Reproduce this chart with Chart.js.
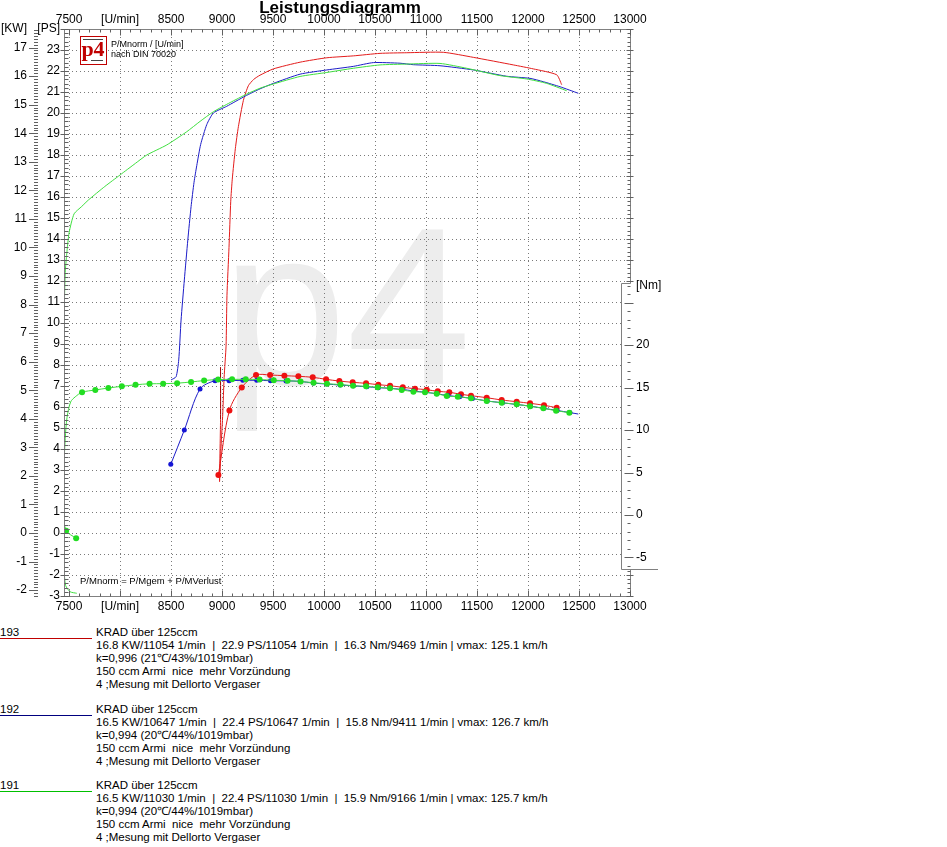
<!DOCTYPE html>
<html>
<head>
<meta charset="utf-8">
<script src="https://cdn.jsdelivr.net/npm/chart.js@4.4.1/dist/chart.umd.min.js"></script>
<style>
  body { margin: 0; background: #fff; font-family: "Liberation Sans", Arial, sans-serif; }
  #wrap { position: relative; width: 947px; height: 615px; }
  .run { position: absolute; left: 0; width: 947px; font-size: 11.5px; line-height: 13px; color: #000; white-space: pre; }
  .run .id { position: absolute; left: 0; top: 0; width: 92px; height: 12px; border-bottom: 1px solid; }
  .run .txt { position: absolute; left: 96px; top: 0; }
</style>
</head>
<body>
<div id="wrap"><canvas id="dyno" width="947" height="615"></canvas></div>

<div class="run" style="top:626px"><div class="id" style="border-color:#c00000">193</div><div class="txt">KRAD über 125ccm
16.8 KW/11054 1/min  |  22.9 PS/11054 1/min  |  16.3 Nm/9469 1/min | vmax: 125.1 km/h
k=0,996 (21℃/43%/1019mbar)
150 ccm Armi  nice  mehr Vorzündung
4 ;Mesung mit Dellorto Vergaser</div></div>

<div class="run" style="top:703px"><div class="id" style="border-color:#00007f">192</div><div class="txt">KRAD über 125ccm
16.5 KW/10647 1/min  |  22.4 PS/10647 1/min  |  15.8 Nm/9411 1/min | vmax: 126.7 km/h
k=0,994 (20℃/44%/1019mbar)
150 ccm Armi  nice  mehr Vorzündung
4 ;Mesung mit Dellorto Vergaser</div></div>

<div class="run" style="top:779px"><div class="id" style="border-color:#00c000">191</div><div class="txt">KRAD über 125ccm
16.5 KW/11030 1/min  |  22.4 PS/11030 1/min  |  15.9 Nm/9166 1/min | vmax: 125.7 km/h
k=0,994 (20℃/44%/1019mbar)
150 ccm Armi  nice  mehr Vorzündung
4 ;Mesung mit Dellorto Vergaser</div></div>

<script>
// ── Axis ranges ───────────────────────────────────────────────────────────────
const RPM_MIN = 7450, RPM_MAX = 13000;
const PS_MIN = -3, PS_MAX = 24;
const PS_TO_KW = 0.73549875;
const KW_MIN = PS_MIN * PS_TO_KW, KW_MAX = PS_MAX * PS_TO_KW;
const NM_MIN = -9.53, NM_MAX = 57.18;
const NM_BOX = [-6.3, 27.3];          // span of the little torque scale on the right

const rpmTicks = [7500, 8000, 8500, 9000, 9500, 10000, 10500, 11000, 11500, 12000, 12500, 13000];
const psTicks  = [-3, -2, -1, 0, 1, 2, 3, 4, 5, 6, 7, 8, 9, 10, 11, 12, 13, 14, 15, 16, 17, 18, 19, 20, 21, 22, 23];
const psRightTicks = [-3, 13, 14, 15, 16, 17, 18, 19, 20, 21, 22, 23];
const kwTicks  = [-2, -1, 0, 1, 2, 3, 4, 5, 6, 7, 8, 9, 10, 11, 12, 13, 14, 15, 16, 17];
const nmTicks  = [-5, 0, 5, 10, 15, 20];
const NM_LABEL_AT = 27;

// ── Power curves [rpm, PS] ────────────────────────────────────────────────────
const greenPower = [
  [7575, -2.87], [7510, -2.8], [7466, -2.5], [7448, -1.6], [7446, 1.5], [7447, 6.0], [7449, 9.7],
  [7462, 12.4], [7477, 13.3], [7500, 14.3], [7549, 15.2], [7624, 15.55], [7690, 15.86], [7850, 16.5],
  [8000, 17.05], [8150, 17.6], [8262, 18.0], [8458, 18.48], [8654, 19.11], [8784, 19.6], [8915, 20.06],
  [9080, 20.5], [9242, 20.9], [9372, 21.18], [9503, 21.38], [9765, 21.74], [10027, 21.93], [10287, 22.13],
  [10549, 22.29], [10811, 22.33], [11137, 22.36], [11399, 22.13], [11725, 21.78], [11987, 21.62],
  [12183, 21.41], [12379, 21.06]
];
const bluePower = [
  [8500, 7.29], [8549, 7.44], [8575, 8.24], [8598, 10.14], [8630, 12.05], [8664, 13.95], [8696, 15.54],
  [8725, 16.7], [8752, 17.5], [8790, 18.5], [8850, 19.45], [8915, 20.0], [9046, 20.32], [9225, 20.8],
  [9372, 21.15], [9503, 21.41], [9765, 21.85], [10027, 22.05], [10287, 22.22], [10484, 22.4],
  [10745, 22.37], [10876, 22.3], [11137, 22.25], [11464, 22.05], [11791, 21.75], [12020, 21.65],
  [12150, 21.49], [12314, 21.25], [12493, 20.94]
];
const redPowerLeadIn = [[8985, 7.9], [8985, 5.4]];
const redPower = [
  [8975, 2.45], [8990, 4.1], [9007, 5.7], [9020, 7.4], [9039, 8.9], [9048, 11.3], [9068, 13.6],
  [9085, 15.8], [9100, 16.85], [9130, 18.3], [9160, 19.35], [9209, 20.6], [9258, 21.3], [9310, 21.6],
  [9372, 21.8], [9503, 22.1], [9765, 22.42], [10027, 22.63], [10287, 22.72], [10549, 22.84],
  [10811, 22.87], [11170, 22.89], [11464, 22.65], [11856, 22.29], [12052, 22.1], [12281, 21.82],
  [12330, 21.35]
];

// ── Torque curves [rpm, Nm] — measured points get a dot, lead-ins do not ──────
const greenTorqueStart  = [[7569, -2.74], [7471, -1.84]];
const greenTorqueLeadIn = [[7444, 0.5], [7448, 5.0], [7462, 9.0], [7480, 11.5], [7515, 13.3], [7560, 13.9]];
const greenTorque = [
  [7627, 14.44], [7757, 14.71], [7885, 14.94], [8017, 15.14], [8152, 15.32], [8289, 15.44], [8422, 15.45],
  [8559, 15.51], [8696, 15.65], [8824, 15.82], [8961, 15.94], [9098, 15.96], [9232, 15.96], [9368, 15.94],
  [9507, 15.85], [9642, 15.8], [9770, 15.71], [9897, 15.56], [10029, 15.44], [10162, 15.35], [10284, 15.21],
  [10412, 15.14], [10526, 15.02], [10647, 14.91], [10762, 14.71], [10876, 14.51], [10990, 14.44],
  [11105, 14.27], [11203, 14.0], [11311, 13.92], [11441, 13.73], [11595, 13.41], [11742, 13.21],
  [11889, 13.02], [12020, 12.79], [12150, 12.55], [12275, 12.27], [12405, 12.04]
];
const blueTorque = [
  [8497, 5.96], [8630, 10.0], [8784, 14.82], [8931, 15.8], [9069, 15.8], [9203, 15.85], [9340, 15.85],
  [9475, 15.8], [9627, 15.78], [9765, 15.72], [9895, 15.52], [10026, 15.41], [10157, 15.29], [10287, 15.2],
  [10419, 15.09], [10532, 14.98], [10647, 14.9], [10762, 14.78], [10876, 14.6], [10990, 14.44],
  [11105, 14.27], [11215, 14.05], [11330, 13.9], [11455, 13.7], [11600, 13.42], [11750, 13.2],
  [11890, 13.0], [12025, 12.8], [12155, 12.55], [12285, 12.3], [12410, 12.05]
];
const blueTorqueTail = [[12493, 11.88]];
const redTorque = [
  [8964, 4.71], [9072, 12.3], [9193, 15.0], [9333, 16.47], [9471, 16.47], [9611, 16.39], [9748, 16.32],
  [9889, 16.2], [10020, 15.96], [10150, 15.76], [10281, 15.61], [10412, 15.49], [10532, 15.33],
  [10647, 15.21], [10772, 15.02], [10892, 14.86], [11007, 14.74], [11115, 14.55], [11228, 14.44],
  [11343, 14.2], [11441, 14.04], [11595, 13.8], [11742, 13.53], [11889, 13.33], [12020, 13.14],
  [12157, 12.91], [12281, 12.62]
];

// ── Colours ───────────────────────────────────────────────────────────────────
const RED = '#e41c1c', BLUE = '#1c1cc8', GREEN = '#3fe03f';
const GREEN_DOT = '#22dd22', RED_DOT = '#ee1111', BLUE_DOT = '#1414d4';
const AXIS = '#808080', TICK = '#606060';
const FONT = '"Liberation Sans", Arial, sans-serif';

const pts = (arr, mark) => arr.map(([x, y]) => ({ x, y, mark }));

function powerSet(data, color, extra) {
  return Object.assign({
    data, borderColor: color, borderWidth: 1, pointRadius: 0, tension: 0.2,
    xAxisID: 'x', yAxisID: 'ps',
  }, extra);
}
function torqueSet(data, color, dot, r) {
  return {
    data, borderColor: color, borderWidth: 1, tension: 0.3,
    pointRadius: c => (c.raw && c.raw.mark ? r : 0),
    pointBackgroundColor: dot, pointBorderWidth: 0,
    xAxisID: 'x', yAxisID: 'nm',
  };
}

// ── Frame plugin: watermark, axis ticks, torque box, logo, titles ─────────────
function hTicks(ctx, scale, from, to, step, x1, x2, skip) {
  for (let i = Math.ceil(from / step - 1e-9); i * step <= to + 1e-9; i++) {
    const v = i * step;
    const y = Math.round(scale.getPixelForValue(v)) + 0.5;
    if (skip && skip(y)) continue;
    ctx.moveTo(x1, y); ctx.lineTo(x2, y);
  }
}
function vTicks(ctx, scale, from, to, step, y1, y2) {
  for (let i = Math.ceil(from / step - 1e-9); i * step <= to + 1e-9; i++) {
    const x = Math.round(scale.getPixelForValue(i * step)) + 0.5;
    ctx.moveTo(x, y1); ctx.lineTo(x, y2);
  }
}

const frame = {
  id: 'frame',
  beforeDraw(chart) {
    const { ctx } = chart;
    ctx.save();
    ctx.fillStyle = '#fff';
    ctx.fillRect(0, 0, chart.width, chart.height);
    ctx.fillStyle = '#ededed';
    ctx.font = '224px ' + FONT;
    ctx.textBaseline = 'alphabetic';
    ctx.fillText('p4', 222, 384);
    ctx.restore();
  },
  beforeDatasetsDraw(chart) {
    const { ctx, scales } = chart;
    const nmTop = Math.round(scales.nm.getPixelForValue(NM_BOX[1]));
    const nmBot = Math.round(scales.nm.getPixelForValue(NM_BOX[0]));
    ctx.save();
    ctx.fillStyle = '#fff';
    ctx.fillRect(621, nmTop, 40, nmBot - nmTop);
    ctx.restore();
  },
  afterDraw(chart) {
    const { ctx, chartArea: a, scales } = chart;
    const L = Math.round(a.left) + 0.5, R = Math.round(a.right) + 0.5;
    const T = Math.round(a.top) + 0.5, B = Math.round(a.bottom) + 0.5;
    const nmTop = Math.round(scales.nm.getPixelForValue(NM_BOX[1])) + 0.5;
    const nmBot = Math.round(scales.nm.getPixelForValue(NM_BOX[0])) + 0.5;
    ctx.save();
    ctx.lineWidth = 1;

    // frame lines
    ctx.strokeStyle = AXIS;
    ctx.beginPath();
    ctx.moveTo(L, T); ctx.lineTo(R, T);
    ctx.moveTo(L, B); ctx.lineTo(R, B);
    ctx.moveTo(L, T); ctx.lineTo(L, B);
    ctx.moveTo(R, T); ctx.lineTo(R, nmTop);
    ctx.moveTo(R, nmBot); ctx.lineTo(R, B);
    ctx.moveTo(621.5, nmTop); ctx.lineTo(621.5, nmBot);
    ctx.moveTo(621.5, nmTop); ctx.lineTo(R, nmTop);
    ctx.moveTo(621.5, nmBot); ctx.lineTo(658, nmBot);
    ctx.stroke();

    // tick marks
    ctx.strokeStyle = TICK;
    ctx.beginPath();
    hTicks(ctx, scales.ps, PS_MIN, PS_MAX, 0.2, L, L + 4);
    hTicks(ctx, scales.ps, PS_MIN, PS_MAX, 1, L - 4, L + 4);
    hTicks(ctx, scales.kw, KW_MIN, KW_MAX, 0.1, 34, 38);
    hTicks(ctx, scales.kw, KW_MIN, KW_MAX, 1, 29, 38);
    const outsideBox = y => y > nmTop - 1 && y < nmBot + 1;
    hTicks(ctx, scales.psR, PS_MIN, PS_MAX, 0.2, R - 3, R, outsideBox);
    hTicks(ctx, scales.psR, PS_MIN, PS_MAX, 1, R - 4, R + 3, outsideBox);
    hTicks(ctx, scales.nm, NM_BOX[0], NM_BOX[1], 1, R - 3, R);
    hTicks(ctx, scales.nm, NM_BOX[0], NM_BOX[1], 5, R - 6, R + 3);
    vTicks(ctx, scales.x, 7500, RPM_MAX, 100, T, T + 3);
    vTicks(ctx, scales.x, 7500, RPM_MAX, 500, T, T + 6);
    vTicks(ctx, scales.x, 7500, RPM_MAX, 100, B - 3, B);
    vTicks(ctx, scales.x, 7500, RPM_MAX, 500, B - 6, B);
    ctx.stroke();

    // title
    ctx.fillStyle = '#000';
    ctx.font = 'bold 17px ' + FONT;
    ctx.textAlign = 'center';
    ctx.textBaseline = 'alphabetic';
    ctx.fillText('Leistungsdiagramm', 340, 13);

    // logo
    ctx.fillStyle = '#fff';
    ctx.fillRect(80, 36, 26, 28);
    ctx.strokeStyle = '#c00000';
    ctx.strokeRect(80.5, 36.5, 26, 28);
    ctx.fillStyle = '#444';
    ctx.fillRect(83, 39, 20, 1);
    ctx.fillRect(91, 60, 12, 1);
    ctx.fillStyle = '#c00000';
    ctx.font = 'bold 22px "Liberation Serif", serif';
    ctx.fillText('p4', 93, 56);

    ctx.textAlign = 'left';
    ctx.fillStyle = '#000';
    ctx.font = '9px ' + FONT;
    ctx.fillText('P/Mnorm / [U/min]', 111, 47);
    ctx.fillText('nach DIN 70020', 111, 57);
    ctx.font = '9.5px ' + FONT;
    ctx.fillText('P/Mnorm = P/Mgem + P/MVerlust', 80, 584);

    // torque scale labels
    ctx.font = '12px ' + FONT;
    ctx.textBaseline = 'middle';
    for (const v of nmTicks) ctx.fillText(String(v), 636, scales.nm.getPixelForValue(v));
    ctx.fillText('[Nm]', 636, scales.nm.getPixelForValue(NM_LABEL_AT));
    ctx.restore();
  }
};

// ── Scales ────────────────────────────────────────────────────────────────────
const tickFont = { family: FONT, size: 12 };
const setTicks = list => scale => { scale.ticks = list.map(value => ({ value })); };

function rpmScale(position, height, padding, showGrid) {
  return {
    type: 'linear', position, min: RPM_MIN, max: RPM_MAX,
    afterBuildTicks: setTicks(rpmTicks),
    afterFit: s => { s.height = height; },
    grid: { display: showGrid, color: '#7a7a7a', drawTicks: false },
    border: { display: false, dash: [1, 3] },
    ticks: {
      font: tickFont, color: '#000', padding, maxRotation: 0, autoSkip: false,
      callback: v => (v === 8000 ? '[U/min]' : String(v)),
    },
  };
}

new Chart(document.getElementById('dyno'), {
  type: 'line',
  data: {
    datasets: [
      torqueSet([...pts(greenTorqueStart, true), ...pts(greenTorqueLeadIn, false), ...pts(greenTorque, true)],
        GREEN, GREEN_DOT, 3),
      powerSet(pts(greenPower), GREEN),
      torqueSet([...pts(blueTorque, true), ...pts(blueTorqueTail, false)], BLUE, BLUE_DOT, 2.5),
      powerSet(pts(bluePower), BLUE),
      torqueSet(pts(redTorque, true), RED, RED_DOT, 3),
      powerSet([...pts(redPowerLeadIn), ...pts(redPower)], RED, {
        segment: { borderColor: c => (c.p0DataIndex === 0 ? '#a00000' : undefined) },
      }),
    ],
  },
  options: {
    responsive: false,
    animation: false,
    events: [],
    layout: { padding: 0 },
    plugins: { legend: { display: false }, tooltip: { enabled: false } },
    scales: {
      x: rpmScale('bottom', 19, 3, true),
      x2: rpmScale('top', 29, 2, false),
      kw: {
        type: 'linear', position: 'left', weight: 1, min: KW_MIN, max: KW_MAX,
        afterBuildTicks: setTicks([...kwTicks, KW_MAX]),
        afterFit: s => { s.width = 38; },
        grid: { display: false, drawTicks: false }, border: { display: false },
        ticks: { font: tickFont, color: '#000', padding: 11, callback: v => (v === KW_MAX ? '[KW]' : String(v)) },
      },
      ps: {
        type: 'linear', position: 'left', weight: 0, min: PS_MIN, max: PS_MAX,
        afterBuildTicks: setTicks([...psTicks, PS_MAX]),
        afterFit: s => { s.width = 26; },
        grid: { color: '#7a7a7a', drawTicks: false },
        border: { display: false, dash: [1, 3] },
        ticks: { font: tickFont, color: '#000', padding: 4, callback: v => (v === PS_MAX ? '[PS]' : String(v)) },
      },
      psR: {
        type: 'linear', position: 'right', weight: 0, min: PS_MIN, max: PS_MAX,
        afterBuildTicks: setTicks([...psRightTicks, PS_MAX]),
        afterFit: s => { s.width = 0; },
        grid: { display: false, drawTicks: false }, border: { display: false },
        ticks: { font: tickFont, color: '#000', padding: 5, callback: v => (v === PS_MAX ? '[PS]' : String(v)) },
      },
      nm: {
        type: 'linear', position: 'right', weight: 1, min: NM_MIN, max: NM_MAX,
        afterFit: s => { s.width = 317; },
        grid: { display: false, drawTicks: false }, border: { display: false },
        ticks: { display: false },
      },
    },
  },
  plugins: [frame],
});
</script>
</body>
</html>
